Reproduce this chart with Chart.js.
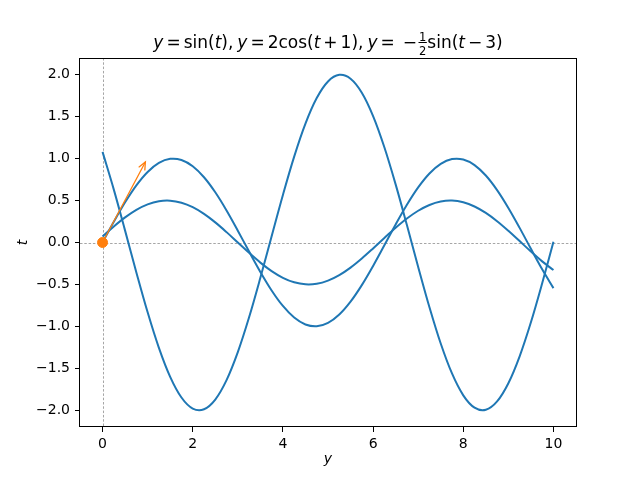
<!DOCTYPE html>
<html><head><meta charset="utf-8">
<script src="https://cdn.jsdelivr.net/npm/chart.js@4/dist/chart.umd.min.js"></script>
<style>html,body{margin:0;padding:0;background:#fff}</style>
</head><body>
<canvas id="c" width="640" height="480"></canvas>
<script>
// ---- data ----
const tValues = [0,0.25,0.5,0.75,1,1.25,1.5,1.75,2,2.25,2.5,2.75,3,3.25,3.5,3.75,4,4.25,4.5,4.75,5,5.25,5.5,5.75,6,6.25,6.5,6.75,7,7.25,7.5,7.75,8,8.25,8.5,8.75,9,9.25,9.5,9.75,10];
const sinSeries = [0,0.2474,0.4794,0.6816,0.8415,0.9490,0.9975,0.9840,0.9093,0.7781,0.5985,0.3817,0.1411,-0.1082,-0.3508,-0.5716,-0.7568,-0.8950,-0.9775,-0.9993,-0.9589,-0.8589,-0.7055,-0.5083,-0.2794,-0.0332,0.2151,0.4500,0.6570,0.8231,0.9380,0.9946,0.9894,0.9228,0.7985,0.6247,0.4121,0.1743,-0.0752,-0.3195,-0.5440];
const cosSeries = [1.0806,0.6306,0.1415,-0.3564,-0.8323,-1.2563,-1.6023,-1.8485,-1.9800,-1.9883,-1.8729,-1.6412,-1.3073,-0.8922,-0.4216,0.0752,0.5673,1.0243,1.4174,1.7224,1.9203,1.9989,1.9532,1.7860,1.5078,1.1359,0.6932,0.2076,-0.2910,-0.7714,-1.2040,-1.5617,-1.8223,-1.9695,-1.9943,-1.8952,-1.6781,-1.3568,-0.9511,-0.4862,0.0089];
const halfSinSeries = [0.0706,0.1908,0.2992,0.3891,0.4546,0.4920,0.4987,0.4745,0.4207,0.3408,0.2397,0.1237,0,-0.1237,-0.2397,-0.3408,-0.4207,-0.4745,-0.4987,-0.4920,-0.4546,-0.3891,-0.2992,-0.1908,-0.0706,0.0541,0.1754,0.2858,0.3784,0.4475,0.4888,0.4996,0.4795,0.4294,0.3528,0.2541,0.1397,0.0166,-0.1076,-0.2250,-0.3285];
const markerX = [0];
const markerY = [0];
const arrowX = [0, 0.95];
const arrowY = [0, 0.96];
const xTicks = [0,2,4,6,8,10];
const yTicks = [-2,-1.5,-1,-0.5,0,0.5,1,1.5,2];
const xLimits = [-0.5, 10.5];
const yLimits = [-2.2, 2.2];

const BLUE = '#1f77b4', ORANGE = '#ff7f0e';
const FONT = "'DejaVu Sans'";
const toPts = (xs, ys) => xs.map((x, i) => ({x: x, y: ys[i]}));

const extras = {
  id: 'extras',
  beforeDatasetsDraw(chart) {
    const {ctx, chartArea: a, scales: {x, y}} = chart;
    ctx.save();
    ctx.strokeStyle = '#808080';
    ctx.lineWidth = 0.7;
    ctx.setLineDash([2.5, 1.8]);
    const px = Math.round(x.getPixelForValue(0)) + 0.5;
    const py = Math.round(y.getPixelForValue(0)) + 0.5;
    ctx.beginPath(); ctx.moveTo(px, a.top); ctx.lineTo(px, a.bottom); ctx.stroke();
    ctx.beginPath(); ctx.moveTo(a.left, py); ctx.lineTo(a.right, py); ctx.stroke();
    ctx.restore();
  },
  afterDatasetsDraw(chart) {
    const {ctx, scales: {x, y}} = chart;
    const x0 = x.getPixelForValue(arrowX[0]), y0 = y.getPixelForValue(arrowY[0]);
    const x1 = x.getPixelForValue(arrowX[1]), y1 = y.getPixelForValue(arrowY[1]);
    const ang = Math.atan2(y1 - y0, x1 - x0);
    ctx.save();
    ctx.strokeStyle = ORANGE; ctx.lineWidth = 1.3; ctx.lineCap = 'round';
    ctx.beginPath(); ctx.moveTo(x0, y0); ctx.lineTo(x1, y1); ctx.stroke();
    const hl = 8, hw = 0.42;
    ctx.beginPath();
    ctx.moveTo(x1 - hl * Math.cos(ang - hw), y1 - hl * Math.sin(ang - hw));
    ctx.lineTo(x1, y1);
    ctx.lineTo(x1 - hl * Math.cos(ang + hw), y1 - hl * Math.sin(ang + hw));
    ctx.stroke();
    ctx.restore();
  },
  afterDraw(chart) {
    const {ctx, chartArea: a} = chart;
    ctx.save();
    ctx.strokeStyle = '#000'; ctx.lineWidth = 1;
    ctx.strokeRect(Math.round(a.left) - 0.5, Math.round(a.top) + 0.5,
                   Math.round(a.right - a.left) + 1, Math.round(a.bottom - a.top) - 1);
    // axis labels
    ctx.fillStyle = '#000';
    ctx.font = 'italic 14px ' + FONT;
    ctx.textAlign = 'center'; ctx.textBaseline = 'alphabetic';
    ctx.fillText('y', (a.left + a.right) / 2, 463);
    ctx.save();
    ctx.translate(27, (a.top + a.bottom) / 2);
    ctx.rotate(-Math.PI / 2);
    ctx.fillText('t', 0, 0);
    ctx.restore();
    // title with math styling
    const N = '17px ' + FONT, I = 'italic 17px ' + FONT, S = '11.5px ' + FONT;
    const parts = [
      {t:'y', f:I}, {g:3}, {t:'=', f:N}, {g:3}, {t:'sin(', f:N}, {t:'t', f:I}, {t:'),', f:N}, {g:4},
      {t:'y', f:I}, {g:3}, {t:'=', f:N}, {g:3}, {t:'2cos(', f:N}, {t:'t', f:I}, {g:3}, {t:'+', f:N}, {g:3}, {t:'1),', f:N}, {g:4},
      {t:'y', f:I}, {g:3}, {t:'=', f:N}, {g:8}, {t:'\u2212', f:N}, {g:1}, {frac:true}, {t:'sin(', f:N}, {t:'t', f:I}, {g:3}, {t:'\u2212', f:N}, {g:3}, {t:'3)', f:N}
    ];
    let total = 0;
    for (const p of parts) {
      if (p.g !== undefined) p.w = p.g;
      else if (p.frac) { ctx.font = S; p.w = ctx.measureText('1').width + 2; }
      else { ctx.font = p.f; p.w = ctx.measureText(p.t).width; }
      total += p.w;
    }
    let cx = (a.left + a.right) / 2 - total / 2;
    const base = 48;
    ctx.textAlign = 'left';
    for (const p of parts) {
      if (p.g !== undefined) { /* gap */ }
      else if (p.frac) {
        ctx.font = S; ctx.textAlign = 'center';
        const mid = cx + p.w / 2;
        ctx.fillText('1', mid, base - 7.5);
        ctx.fillText('2', mid, base + 6.5);
        ctx.fillRect(cx + 0.5, base - 6, p.w - 1, 1);
        ctx.textAlign = 'left';
      } else {
        ctx.font = p.f; ctx.fillText(p.t, cx, base);
      }
      cx += p.w;
    }
    ctx.restore();
  }
};

new Chart(document.getElementById('c'), {
  type: 'scatter',
  data: {
    datasets: [
      {data: toPts(markerX, markerY), backgroundColor: ORANGE, borderColor: ORANGE, pointRadius: 5, showLine: false, order: 0},
      {data: toPts(tValues, sinSeries), borderColor: BLUE, borderWidth: 2, showLine: true, pointRadius: 0, tension: 0.35, order: 1},
      {data: toPts(tValues, cosSeries), borderColor: BLUE, borderWidth: 2, showLine: true, pointRadius: 0, tension: 0.35, order: 1},
      {data: toPts(tValues, halfSinSeries), borderColor: BLUE, borderWidth: 2, showLine: true, pointRadius: 0, tension: 0.35, order: 1}
    ]
  },
  options: {
    responsive: false, animation: false, devicePixelRatio: 1,
    layout: {padding: {left: 0, right: 64, top: 58, bottom: 0}},
    plugins: {legend: {display: false}, tooltip: {enabled: false}, title: {display: false}},
    scales: {
      x: {
        type: 'linear', min: xLimits[0], max: xLimits[1],
        afterBuildTicks: s => { s.ticks = xTicks.map(v => ({value: v})); },
        afterFit: s => { s.height = 53; },
        grid: {display: true, drawOnChartArea: false, drawTicks: true, tickLength: 5, color: '#000', lineWidth: 1},
        border: {display: false},
        ticks: {color: '#000', font: {family: FONT, size: 14}, padding: 4, maxRotation: 0,
                callback: v => String(v)}
      },
      y: {
        type: 'linear', min: yLimits[0], max: yLimits[1],
        afterBuildTicks: s => { s.ticks = yTicks.map(v => ({value: v})); },
        afterFit: s => { s.width = 80; },
        grid: {display: true, drawOnChartArea: false, drawTicks: true, tickLength: 5, color: '#000', lineWidth: 1},
        border: {display: false},
        ticks: {color: '#000', font: {family: FONT, size: 14}, padding: 5,
                callback: v => (v < 0 ? '\u2212' : '') + Math.abs(v).toFixed(1)}
      }
    }
  },
  plugins: [extras]
});
</script>
</body></html>
